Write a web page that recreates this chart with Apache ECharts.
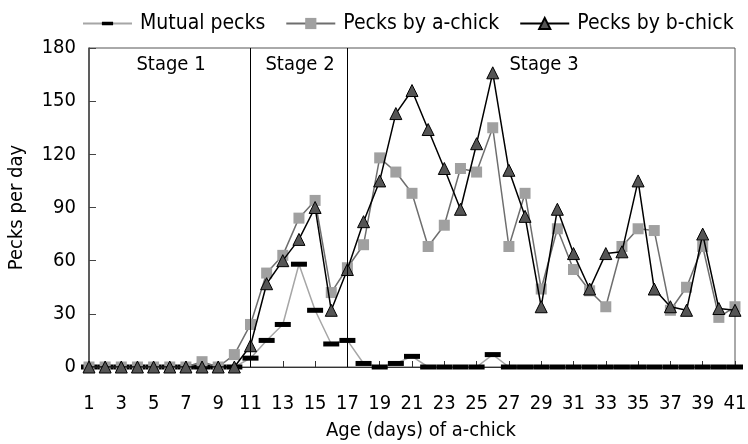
<!DOCTYPE html>
<html><head><meta charset="utf-8">
<script src="https://cdn.jsdelivr.net/npm/echarts@6/dist/echarts.min.js"></script>
<style>html,body{margin:0;padding:0;background:#fff}#c{width:748px;height:444px}</style>
</head><body><div id="c"></div>
<script>
const days = Array.from({length:41},(_,i)=>String(i+1));
const mutualPecks = [0,0,0,0,0,0,0,0,0,0,5,15,24,58,32,13,15,2,0,2,6,0,0,0,0,7,0,0,0,0,0,0,0,0,0,0,0,0,0,0,0];
const pecksByA = [0,0,0,0,0,0,0,3,0,7,24,53,63,84,94,42,56,69,118,110,98,68,80,112,110,135,68,98,44,78,55,43,34,68,78,77,32,45,68,28,34];
const pecksByB = [0,0,0,0,0,0,0,0,0,0,12,47,60,72,90,32,55,82,105,143,156,134,112,89,126,166,111,85,34,89,64,44,64,65,105,44,34,32,75,33,32];
const yTicks = [0,30,60,90,120,150,180];
const stageBounds = ['11','17'];
const stageLabels = [{name:'Stage 1', x:171},{name:'Stage 2', x:300},{name:'Stage 3', x:544}];
const FONT = '"DejaVu Sans Condensed","DejaVu Sans",sans-serif';
const FS = 20;
const DASH = 'path://M0,0M0,5.5h16v5h-16zM16,16';

const chart = echarts.init(document.getElementById('c'));
chart.setOption({
  animation:false,
  textStyle:{fontFamily:FONT},
  legend:{
    top:8, left:77, width:690, itemGap:20, itemWidth:49, itemHeight:14,
    textStyle:{fontFamily:FONT,fontSize:21,color:'#000',padding:[0,0,0,3]},
    data:['Mutual pecks','Pecks by a-chick','Pecks by b-chick']
  },
  grid:{left:89,right:13,top:48,bottom:77,show:true,borderColor:'#555',borderWidth:1,containLabel:false,outerBoundsMode:'none'},
  graphic: stageLabels.map(s=>({type:'text',x:s.x,y:65,style:{text:s.name,fontFamily:FONT,fontSize:FS,fill:'#000',textAlign:'center',textVerticalAlign:'middle'}})),
  xAxis:{
    type:'category', data:days, boundaryGap:false,
    name:'Age (days) of a-chick', nameLocation:'middle', nameGap:54,
    nameTextStyle:{fontFamily:FONT,fontSize:FS,color:'#000',padding:[0,0,0,18]},
    axisLine:{lineStyle:{color:'#333',width:1}},
    axisTick:{inside:true,interval:1,length:6,lineStyle:{color:'#333'}},
    axisLabel:{interval:1,margin:27,fontFamily:FONT,fontSize:FS,color:'#000'},
    splitLine:{show:false}
  },
  yAxis:{
    type:'value', min:0, max:180, interval:30,
    name:'Pecks per day', nameLocation:'middle', nameGap:62,
    nameTextStyle:{fontFamily:FONT,fontSize:FS,color:'#000'},
    axisLine:{show:true,lineStyle:{color:'#444',width:1.5}},
    axisTick:{show:true,inside:true,length:7,lineStyle:{color:'#444'}},
    axisLabel:{margin:13,fontFamily:FONT,fontSize:FS,color:'#000',formatter:v=>yTicks.includes(v)?String(v):''},
    splitLine:{show:false}
  },
  series:[
    {name:'Mutual pecks',type:'line',data:mutualPecks,symbol:DASH,symbolSize:16,showAllSymbol:true,
     itemStyle:{color:'#000'},lineStyle:{color:'#a6a6a6',width:1.5},z:2},
    {name:'Pecks by a-chick',type:'line',data:pecksByA,symbol:'rect',symbolSize:11,showAllSymbol:true,
     itemStyle:{color:'#a0a0a0'},lineStyle:{color:'#6e6e6e',width:1.5},z:3},
    {name:'Pecks by b-chick',type:'line',data:pecksByB,symbol:'triangle',symbolSize:12,showAllSymbol:true,
     itemStyle:{color:'#555',borderColor:'#000',borderWidth:1},lineStyle:{color:'#000',width:1.5},z:4,
     markLine:{silent:true,symbol:'none',label:{show:false},lineStyle:{color:'#000',width:1,type:'solid'},
       data:stageBounds.map(d=>[{xAxis:d,y:48},{xAxis:d,yAxis:0}])}}
  ]
});
</script></body></html>
